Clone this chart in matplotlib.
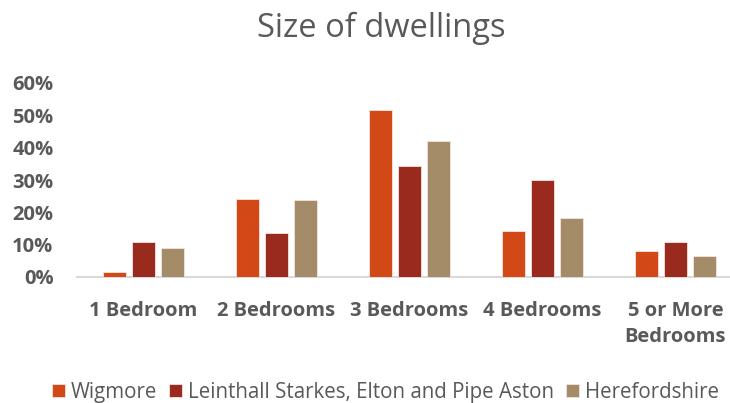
import numpy as np
import matplotlib
matplotlib.use("Agg")
import matplotlib.pyplot as plt
from matplotlib.ticker import PercentFormatter

# ---------------------------------------------------------------------
# Data
# ---------------------------------------------------------------------
categories = ["1 Bedroom", "2 Bedrooms", "3 Bedrooms", "4 Bedrooms", "5 or More\nBedrooms"]
series_names = ["Wigmore", "Leinthall Starkes, Elton and Pipe Aston", "Herefordshire"]
wigmore = [0.015, 0.241, 0.517, 0.141, 0.081]
leinthall = [0.109, 0.136, 0.342, 0.301, 0.109]
herefordshire = [0.089, 0.239, 0.422, 0.182, 0.064]
colors = ["#D24917", "#9B2A1E", "#A48C69"]

text_col = "#595959"
plt.rcParams["font.family"] = ["Open Sans", "DejaVu Sans"]

# ---------------------------------------------------------------------
# Plot
# ---------------------------------------------------------------------
fig = plt.figure(figsize=(7.3, 4.03), dpi=100)
ax = fig.add_axes([77 / 730, 126 / 403, (730 - 77) / 730, 194 / 403])

x = np.arange(len(categories))
width = 0.173
step = 0.218
for i, (vals, name) in enumerate(zip([wigmore, leinthall, herefordshire], series_names)):
    ax.bar(x + (i - 1) * step, vals, width, color=colors[i], label=name,
           edgecolor="#f4e4dc", linewidth=0.6, zorder=3)

ax.set_xlim(-0.5, 4.41)
ax.set_ylim(0, 0.6)
ax.set_yticks(np.arange(0, 0.61, 0.1))
ax.yaxis.set_major_formatter(PercentFormatter(1.0, decimals=0))
ax.set_xticks(x)
ax.set_xticklabels(categories, linespacing=1.4)

for s in ["top", "right", "left"]:
    ax.spines[s].set_visible(False)
ax.spines["bottom"].set_color("#D9D9D9")
ax.spines["bottom"].set_linewidth(1.5)

ax.tick_params(axis="both", length=0, colors=text_col, labelsize=14.5)
ax.tick_params(axis="y", pad=17)
ax.tick_params(axis="x", pad=17)
for lbl in ax.get_xticklabels() + ax.get_yticklabels():
    lbl.set_fontweight("bold")
    lbl.set_color(text_col)

fig.text(0.522, 0.93, "Size of dwellings", ha="center", va="center",
         fontsize=23.5, color=text_col)

fig.legend(loc="center", bbox_to_anchor=(0.528, 0.027), ncol=3, frameon=False,
           fontsize=14.8, labelcolor=text_col, handlelength=0.6, handleheight=0.6,
           handletextpad=0.3, columnspacing=0.6)

fig.savefig("out.png", dpi=100)
